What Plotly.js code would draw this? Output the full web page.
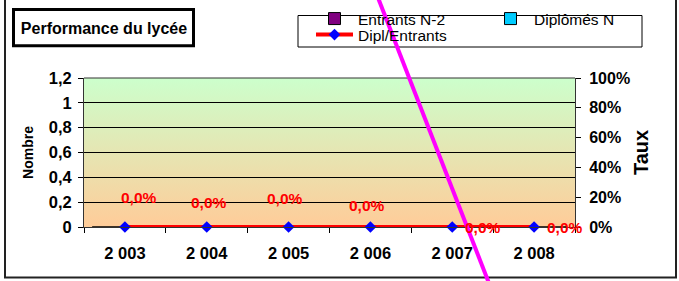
<!DOCTYPE html>
<html>
<head>
<meta charset="utf-8">
<script src="https://cdn.plot.ly/plotly-3.0.1.min.js"></script>
<style>
  html, body { margin: 0; padding: 0; background: #fff; }
  #chart { width: 679px; height: 281px; }
</style>
</head>
<body>
<div id="chart"></div>
<script>
// ---- data ----
const years = ['2 003', '2 004', '2 005', '2 006', '2 007', '2 008'];
const entrants = [0, 0, 0, 0, 0, 0];     // Entrants N-2
const diplomes = [0, 0, 0, 0, 0, 0];     // Diplômés N
const tauxDipl = [0, 0, 0, 0, 0, 0];     // Dipl/Entrants (fraction)
const leftTicks = [0, 0.2, 0.4, 0.6, 0.8, 1, 1.2];
const rightTicks = [0, 0.2, 0.4, 0.6, 0.8, 1];

// ---- style-only helpers ----
const labelShiftX = [14, 2, -4, -3, 31, 31];
const labelShiftY = [30, 25, 29, 22, 0, 0];

const W = 679, H = 281, ML = 84, MR = 104, MT = 78, MB = 54;
const PW = W - ML - MR, PH = H - MT - MB;
const px = v => (v - ML) / PW;          // pixel -> paper x
const py = v => (H - MB - v) / PH;      // pixel -> paper y

const bold = { family: 'Liberation Sans, Arial, sans-serif', weight: 'bold', color: '#000' };
const legFont = { family: 'Liberation Sans, Arial, sans-serif', size: 15.5, color: '#000' };

const gradSvg = "<svg xmlns='http://www.w3.org/2000/svg' width='10' height='100' preserveAspectRatio='none'>" +
  "<defs><linearGradient id='g' x1='0' y1='0' x2='0' y2='1'>" +
  "<stop offset='0' stop-color='#CCFFCC'/><stop offset='1' stop-color='#FFCC99'/>" +
  "</linearGradient></defs><rect width='10' height='100' fill='url(#g)'/></svg>";
const gradUri = 'data:image/svg+xml;charset=utf-8,' + encodeURIComponent(gradSvg);

const fmtPct = v => (v * 100).toFixed(1).replace('.', ',') + '%';

const traces = [
  { type: 'bar', name: 'Entrants N-2', x: years, y: entrants, yaxis: 'y', legend: 'legend',
    marker: { color: '#800080', line: { color: '#000', width: 1 } } },
  { type: 'bar', name: 'Diplômés N', x: years, y: diplomes, yaxis: 'y', legend: 'legend',
    marker: { color: '#00CCFF', line: { color: '#000', width: 1 } } },
  { type: 'scatter', mode: 'lines+markers', name: 'Dipl/Entrants', x: years, y: tauxDipl, yaxis: 'y2',
    legend: 'legend2',
    line: { color: '#FF0000', width: 4 },
    marker: { symbol: 'diamond', size: 9, color: '#0000FF' }, cliponaxis: false }
];

const annotations = years.map((yr, i) => ({
  x: yr, y: tauxDipl[i], xref: 'x', yref: 'y2', text: fmtPct(tauxDipl[i]),
  showarrow: false, xshift: labelShiftX[i], yshift: labelShiftY[i],
  font: Object.assign({}, bold, { size: 15.5, color: '#FF0000' })
}));

const layout = {
  width: W, height: H,
  margin: { l: ML, r: MR, t: MT, b: MB, pad: 0, autoexpand: false },
  paper_bgcolor: '#fff', plot_bgcolor: 'rgba(0,0,0,0)',
  separators: ', ',
  showlegend: true,
  barmode: 'group',
  title: { text: 'Performance du lycée', font: Object.assign({}, bold, { size: 16 }),
    xref: 'container', yref: 'container', x: 104 / W, xanchor: 'center', y: 1 - 28 / H, yanchor: 'middle',
    automargin: false },
  legend: { orientation: 'h', x: px(311), xanchor: 'left', y: py(2), yanchor: 'top',
    borderwidth: 0, bgcolor: 'rgba(0,0,0,0)', font: legFont,
    itemwidth: 37, entrywidth: 124, traceorder: 'normal' },
  legend2: { orientation: 'h', x: px(311), xanchor: 'left', y: py(18), yanchor: 'top',
    borderwidth: 0, bgcolor: 'rgba(0,0,0,0)', font: legFont, itemwidth: 37 },
  xaxis: { type: 'category', range: [-0.5, 5.5], tickson: 'boundaries', ticks: 'outside', ticklen: 5,
    tickcolor: '#000', showgrid: false, showline: true, linecolor: '#333', linewidth: 1,
    tickfont: Object.assign({}, bold, { size: 16.5 }), ticklabelstandoff: 11, fixedrange: true },
  yaxis: { range: [0, 1.2], tickvals: leftTicks, tickformat: ',.1~f', ticks: 'outside', ticklen: 5,
    tickcolor: '#000', showgrid: true, gridcolor: '#000', gridwidth: 1, zeroline: false,
    showline: true, linecolor: '#333', linewidth: 1, mirror: false,
    tickfont: Object.assign({}, bold, { size: 16.5 }), ticklabelstandoff: 3,
    title: { text: 'Nombre', font: Object.assign({}, bold, { size: 14 }), standoff: 11 } },
  yaxis2: { overlaying: 'y', side: 'right', range: [0, 1], tickvals: rightTicks, tickformat: '.0%',
    ticks: 'outside', ticklen: 5, tickcolor: '#000', showgrid: false, zeroline: false,
    showline: true, linecolor: '#333', linewidth: 1,
    tickfont: Object.assign({}, bold, { size: 16 }), ticklabelstandoff: 5,
    title: { text: 'Taux', font: Object.assign({}, bold, { size: 20 }), standoff: 4 } },
  images: [{ source: gradUri, xref: 'paper', yref: 'paper', x: 0, y: 1, sizex: 1, sizey: 1,
    xanchor: 'left', yanchor: 'top', sizing: 'stretch', layer: 'below' }],
  shapes: [
    // top border of plot area
    { type: 'line', xref: 'paper', yref: 'paper', x0: 0, x1: 1, y0: 1, y1: 1, line: { color: '#333', width: 1 } },
    // title box
    { type: 'rect', xref: 'paper', yref: 'paper', x0: px(13.5), x1: px(193.5), y0: py(9.5), y1: py(45.7),
      line: { color: '#000', width: 3 }, fillcolor: 'rgba(0,0,0,0)' },
    // legend box
    { type: 'rect', xref: 'paper', yref: 'paper', x0: px(298), x1: px(642), y0: py(47), y1: py(15.5),
      line: { color: '#000', width: 1 }, fillcolor: '#fff', layer: 'below' },
    // outer chart border
    { type: 'rect', xref: 'paper', yref: 'paper', x0: px(5), x1: px(676), y0: py(277.5), y1: py(-5),
      line: { color: '#222', width: 2 }, fillcolor: 'rgba(0,0,0,0)' },
    // magenta drawn line
    { type: 'line', xref: 'paper', yref: 'paper', x0: px(375), y0: py(-10), x1: px(492), y1: py(291),
      line: { color: '#FF00FF', width: 4 }, layer: 'above' }
  ],
  annotations: annotations
};

Plotly.newPlot('chart', traces, layout, { staticPlot: true, displayModeBar: false });
</script>
</body>
</html>
